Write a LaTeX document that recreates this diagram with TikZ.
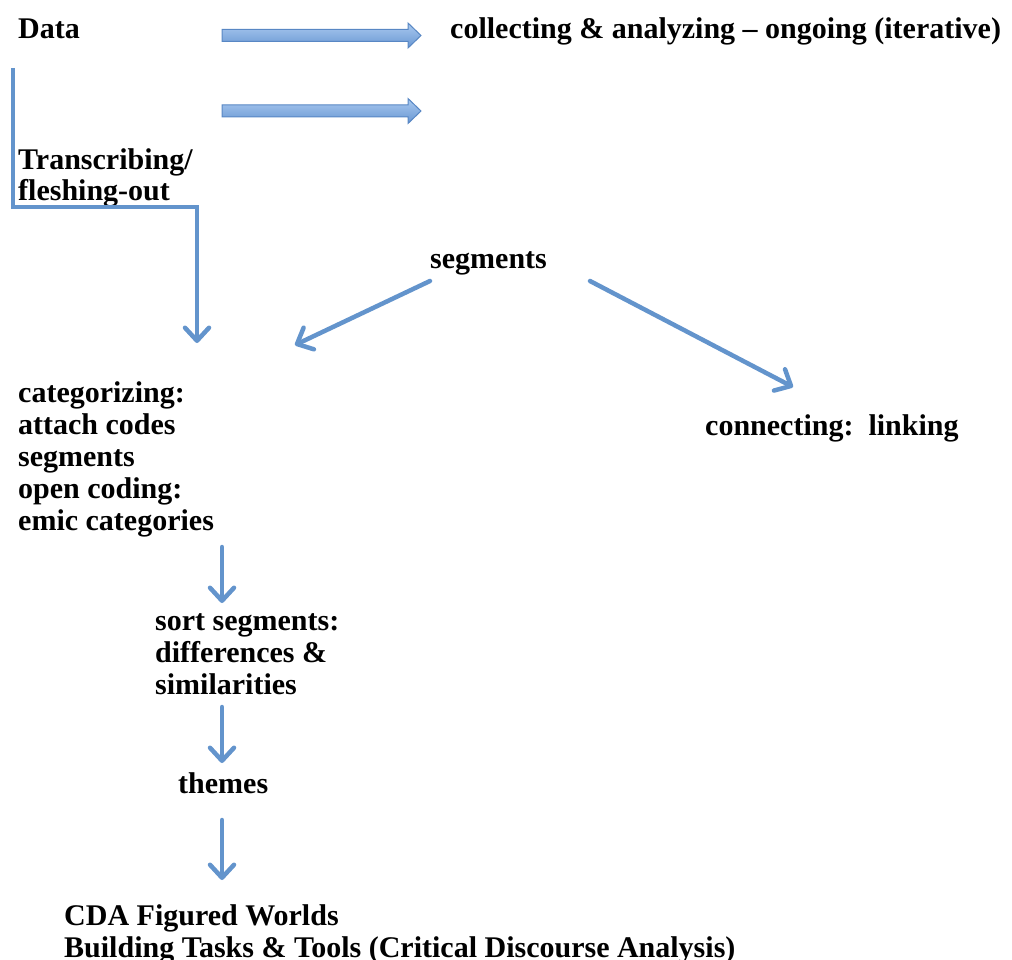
\documentclass[tikz,border=0pt]{standalone}
\usepackage{fontspec}
\setmainfont{Liberation Serif}
\usetikzlibrary{arrows.meta}
\definecolor{lineblue}{RGB}{99,148,204}
\definecolor{arrtop}{RGB}{170,202,240}
\definecolor{arrbot}{RGB}{104,150,210}
\definecolor{arredge}{RGB}{88,135,196}
\tikzset{
  txt/.style={font=\bfseries\fontsize{30}{32}\selectfont, inner sep=0pt, anchor=base west, align=left},
  conn/.style={draw=lineblue, line width=4.5pt, line cap=round, line join=round,
    -{Straight Barb[length=13pt,width=24pt,line cap=round,line join=round]}},
  blockarrow/.style={draw=arredge, line width=1pt, line join=miter, top color=arrtop, bottom color=arrbot}
}
\begin{document}
\begin{tikzpicture}[x=1pt,y=-1pt]
\useasboundingbox (0,0) rectangle (1012,960);
% texts (multi-line nodes: base = baseline of last line)
\node[txt] (data) at (18,39) {Data};
\node[txt] (collect) at (450,39) {collecting \& analyzing -- ongoing (iterative)};
\node[txt] (trans) at (18,201) {Transcribing/\\fleshing-out};
\node[txt] (seg) at (430,269) {segments};
\node[txt] (conn) at (705,435) {connecting:\ \ linking};
\node[txt] (cat) at (18,530) {categorizing:\\attach codes\\segments\\open coding:\\emic categories};
\node[txt] (sort) at (155,694) {sort segments:\\differences \&\\similarities};
\node[txt] (themes) at (178,793) {themes};
\node[txt] (cda) at (64,957) {CDA Figured Worlds\\Building Tasks \& Tools (Critical Discourse Analysis)};
% block arrows
\path[blockarrow] (222,29.5) -- (408,29.5) -- (408,23) -- (421,35.5) -- (408,48) -- (408,41.5) -- (222,41.5) -- cycle;
\path[blockarrow] (222,105) -- (408,105) -- (408,98.5) -- (421,111) -- (408,123.5) -- (408,117) -- (222,117) -- cycle;
% coordinates
\coordinate (l0) at (13,68);
\coordinate (l1) at (13,207);
\coordinate (l2) at (197,207);
\coordinate (l3) at (197,343);
\coordinate (s1a) at (430,281);
\coordinate (s1b) at (295,345);
\coordinate (s2a) at (590,281);
\coordinate (s2b) at (793,387);
\coordinate (d1a) at (222,547);
\coordinate (d1b) at (222,603);
\coordinate (d2a) at (222,707);
\coordinate (d2b) at (222,763);
\coordinate (d3a) at (222,820);
\coordinate (d3b) at (222,880);
% connectors
\draw[conn, line cap=butt, line join=miter] (l0) -- (l1) -- (l2) -- (l3);
\draw[conn] (s1a) -- (s1b);
\draw[conn] (s2a) -- (s2b);
\draw[conn] (d1a) -- (d1b);
\draw[conn] (d2a) -- (d2b);
\draw[conn] (d3a) -- (d3b);
\end{tikzpicture}
\end{document}
